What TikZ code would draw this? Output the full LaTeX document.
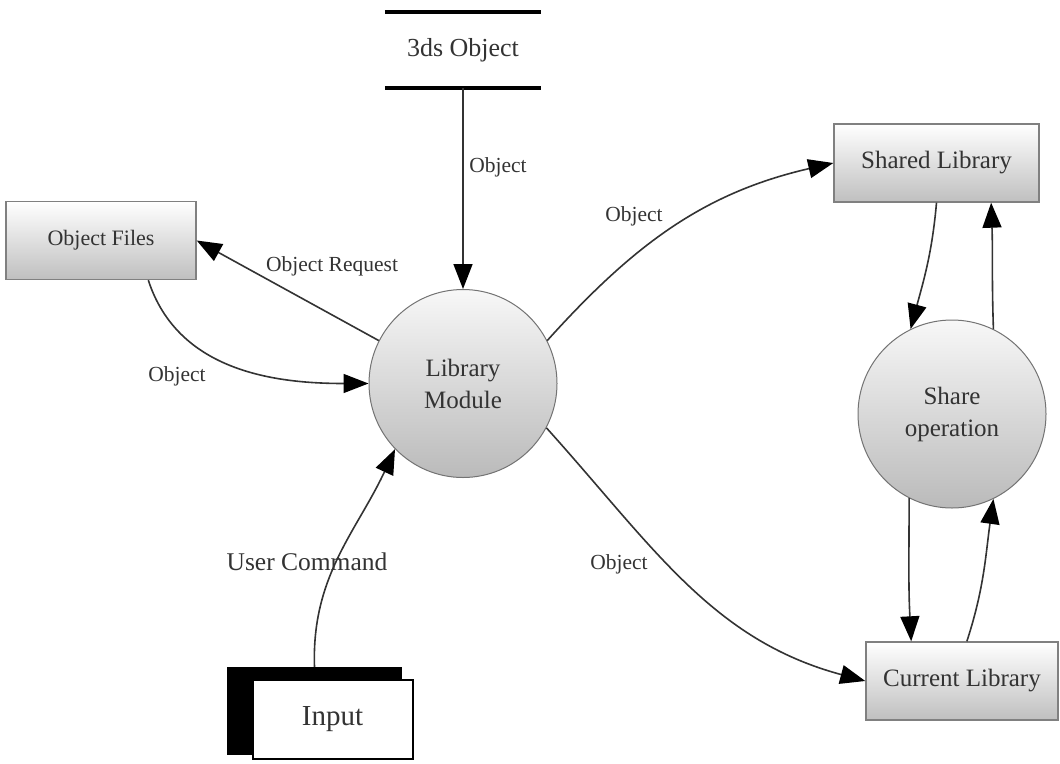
\documentclass[tikz,border=0pt]{standalone}
\usepackage{fontspec}
\setmainfont{Liberation Serif}
\usetikzlibrary{arrows.meta}
\begin{document}
\begin{tikzpicture}[x=1pt,y=1pt,
  every node/.style={text=black!80},
  box/.style={draw=black!50, line width=1.4pt, top color=white, bottom color=black!25,
    minimum height=78pt, inner sep=0pt, font=\fontsize{25}{30}\selectfont},
  proc/.style={circle, draw=black!55, line width=1pt, top color=black!3, bottom color=black!27,
    minimum size=188pt, inner sep=0pt, align=center, font=\fontsize{25}{32}\selectfont},
  flow/.style={-{Triangle[length=25pt,width=19pt,color=black]}, line width=1.6pt, draw=black!80},
  lbl/.style={font=\fontsize{21.5}{26}\selectfont},
  storeline/.style={line width=4pt, draw=black}
]
\useasboundingbox (0,0) rectangle (1060,-763);

% data store
\node[minimum width=156pt, minimum height=76pt, inner sep=0pt,
      font=\fontsize{26}{30}\selectfont] (store) at (463,-50) {3ds Object};
\draw[storeline] (store.north west) -- (store.north east);
\draw[storeline] (store.south west) -- (store.south east);

% processes
\node[proc] (lib) at (463,-383.5) {Library\\Module};
\node[proc] (share) at (952,-414) {Share\\operation};

% entities / stores
\node[box, minimum width=190pt, font=\fontsize{22}{26}\selectfont] (obj) at (101,-240.5) {Object Files};
\node[box, minimum width=205pt] (sl) at (936.5,-163) {Shared Library};
\node[box, minimum width=192pt] (cl) at (962,-681) {Current Library};

% external entity with offset shadow
\node[fill=black, minimum width=175pt, minimum height=88pt, inner sep=0pt] (inback) at (314.5,-711) {};
\node[draw=black, line width=2pt, fill=white, minimum width=160pt, minimum height=79pt,
      inner sep=0pt, font=\fontsize{29}{33}\selectfont] (input) at (332.5,-719) {Input};

% flows
\draw[flow] (store.south) -- (lib.north);
\node[lbl] at (498,-167) {Object};

\draw[flow] (lib.153) -- (obj.east);
\node[lbl] at (332,-266) {Object Request};

\draw[flow] (obj.-40) to[out=-72,in=180] (lib.west);
\node[lbl] at (177,-376) {Object};

\draw[flow] (lib.27) to[out=48,in=193] (sl.west);
\node[lbl] at (634,-216) {Object};

\draw[flow] (lib.-28) to[out=-48,in=165] (cl.west);
\node[lbl] at (619,-564) {Object};

\draw[flow] (inback.north) to[out=92,in=245] (lib.224);
\node[font=\fontsize{25.5}{30}\selectfont] at (307,-562) {User Command};

\draw[flow] (sl.south) to[out=-95,in=75] (share.116);
\draw[flow] (share.64) to[out=92,in=-88] (sl.-36);
\draw[flow] (share.243) to[out=-90,in=93] (cl.142);
\draw[flow] (cl.83) to[out=72,in=-98] (share.-64);
\end{tikzpicture}
\end{document}
